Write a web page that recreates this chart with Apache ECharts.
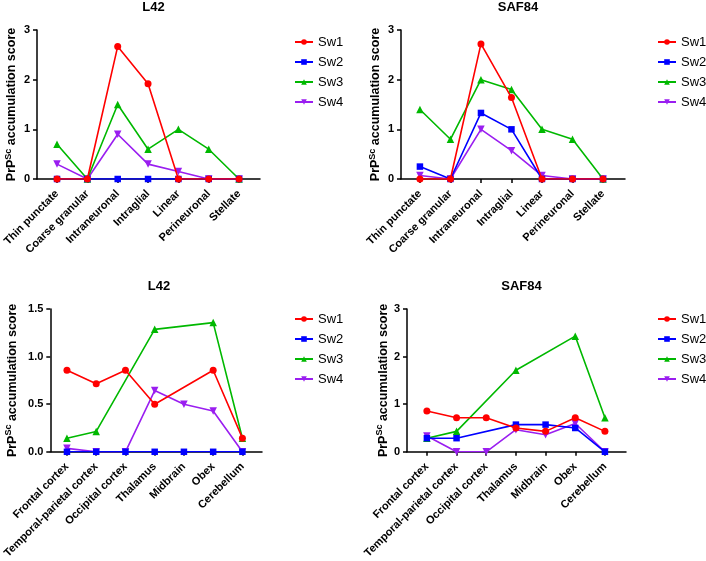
<!DOCTYPE html>
<html>
<head>
<meta charset="utf-8">
<script src="https://cdn.jsdelivr.net/npm/echarts@6/dist/echarts.min.js"></script>
<style>html,body{margin:0;padding:0;background:#fff}#c{width:706px;height:561px}</style>
</head>
<body>
<div id="c"></div>
<script>
const patternCats = ['Thin punctate','Coarse granular','Intraneuronal','Intraglial','Linear','Perineuronal','Stellate'];
const regionCats = ['Frontal cortex','Temporal-parietal cortex','Occipital cortex','Thalamus','Midbrain','Obex','Cerebellum'];
const seriesNames = ['Sw1','Sw2','Sw3','Sw4'];

// Top-left: L42, patterns
const l42PatSw1 = [0, 0, 2.67, 1.92, 0, 0, 0];
const l42PatSw2 = [0, 0, 0, 0, 0, 0, 0];
const l42PatSw3 = [0.7, 0, 1.5, 0.6, 1.0, 0.6, 0];
const l42PatSw4 = [0.3, 0, 0.9, 0.3, 0.15, 0, 0];
// Top-right: SAF84, patterns
const safPatSw1 = [0, 0, 2.72, 1.64, 0, 0, 0];
const safPatSw2 = [0.25, 0, 1.33, 1.0, 0, 0, 0];
const safPatSw3 = [1.4, 0.8, 2.0, 1.8, 1.0, 0.8, 0];
const safPatSw4 = [0.07, 0, 1.0, 0.57, 0.07, 0, 0];
// Bottom-left: L42, regions
const l42RegSw1 = [0.857, 0.714, 0.857, 0.5, null, 0.857, 0.143];
const l42RegSw2 = [0, 0, 0, 0, 0, 0, 0];
const l42RegSw3 = [0.143, 0.214, null, 1.286, null, 1.357, 0.143];
const l42RegSw4 = [0.036, 0, 0, 0.643, 0.5, 0.429, 0];
// Bottom-right: SAF84, regions
const safRegSw1 = [0.857, 0.714, 0.714, 0.5, 0.429, 0.714, 0.429];
const safRegSw2 = [0.286, 0.286, null, 0.571, 0.571, 0.5, 0];
const safRegSw3 = [0.286, 0.429, null, 1.714, null, 2.429, 0.714];
const safRegSw4 = [0.333, 0, 0, 0.464, 0.357, 0.595, 0];

const FONT = "'Liberation Sans', Arial, sans-serif";
const colors = ['#ff0000', '#0000ff', '#00b800', '#9a1ef0'];
const symbols = ['circle', 'rect', 'triangle', 'triangle'];
const symRot = [0, 0, 0, 180];
const symSize = [7, 6.5, 7.5, 7.5];
const zs = [5, 4, 3, 2];

const panels = [
  {title: 'L42', cats: patternCats, data: [l42PatSw1, l42PatSw2, l42PatSw3, l42PatSw4],
   grid: {left: 37, top: 30, width: 223, height: 149}, xmin: -0.66, xmax: 6.69, ymax: 3, yint: 1, dec: 0,
   nameGap: 17, legend: {left: 294, top: 35}},
  {title: 'SAF84', cats: patternCats, data: [safPatSw1, safPatSw2, safPatSw3, safPatSw4],
   grid: {left: 401, top: 30, width: 224, height: 149}, xmin: -0.62, xmax: 6.72, ymax: 3, yint: 1, dec: 0,
   nameGap: 17, legend: {left: 657, top: 35}},
  {title: 'L42', cats: regionCats, data: [l42RegSw1, l42RegSw2, l42RegSw3, l42RegSw4],
   grid: {left: 46, top: 309, width: 216, height: 145}, xmin: -0.57, xmax: 6.67, ymax: 1.5, yint: 0.5, dec: 1,
   nameGap: 30, legend: {left: 294, top: 312}},
  {title: 'SAF84', cats: regionCats, data: [safRegSw1, safRegSw2, safRegSw3, safRegSw4],
   grid: {left: 407, top: 309, width: 219, height: 145}, xmin: -0.67, xmax: 6.71, ymax: 3, yint: 1, dec: 0,
   nameGap: 14, legend: {left: 657, top: 312}}
];

const idx = [0, 1, 2, 3, 4, 5, 6];
const option = {
  backgroundColor: '#fff',
  animation: false,
  title: [], grid: [], xAxis: [], yAxis: [], legend: [], series: []
};

panels.forEach((p, i) => {
  option.grid.push(p.grid);
  option.title.push({
    text: p.title, left: p.grid.left + p.grid.width / 2, textAlign: 'center',
    top: p.grid.top - 34,
    textStyle: {fontFamily: FONT, fontWeight: 'bold', fontSize: 13, color: '#000'}
  });
  const cats = p.cats;
  option.xAxis.push({
    type: 'value', gridIndex: i, min: p.xmin, max: p.xmax,
    splitLine: {show: false},
    axisLine: {onZero: false, lineStyle: {color: '#000', width: 1.5}},
    axisTick: {show: true, customValues: idx, length: 4, lineStyle: {color: '#000', width: 1.5}},
    axisLabel: {
      customValues: idx, rotate: 45, margin: 13, color: '#000',
      fontFamily: FONT, fontWeight: 'bold', fontSize: 11,
      formatter: v => cats[Math.round(v)]
    }
  });
  option.yAxis.push({
    type: 'value', gridIndex: i, min: 0, max: p.ymax, interval: p.yint,
    splitLine: {show: false},
    axisLine: {show: true, onZero: false, lineStyle: {color: '#000', width: 1.5}},
    axisTick: {show: true, length: 4, lineStyle: {color: '#000', width: 1.5}},
    axisLabel: {color: '#000', fontFamily: FONT, fontWeight: 'bold', fontSize: 11, margin: 7,
      formatter: v => v.toFixed(p.dec)},
    name: '{a|PrP}{b|Sc}{a| accumulation score}',
    nameLocation: 'middle', nameRotate: 90, nameGap: p.nameGap,
    nameTextStyle: {
      rich: {
        a: {fontFamily: FONT, fontWeight: 'bold', fontSize: 12.5, color: '#000', lineHeight: 16},
        b: {fontFamily: FONT, fontWeight: 'bold', fontSize: 9, color: '#000', lineHeight: 16, verticalAlign: 'top', padding: [0, 0, 5, 0]}
      }
    }
  });
  option.legend.push({
    orient: 'vertical', left: p.legend.left, top: p.legend.top, padding: 0,
    data: seriesNames, itemWidth: 18, itemHeight: 7, itemGap: 6,
    textStyle: {fontFamily: FONT, fontSize: 13, color: '#000', lineHeight: 14}
  });
  p.data.forEach((arr, s) => {
    option.series.push({
      type: 'line', name: seriesNames[s], xAxisIndex: i, yAxisIndex: i,
      data: arr.map((v, k) => [k, v]),
      connectNulls: true, z: zs[s],
      symbol: symbols[s], symbolRotate: symRot[s], symbolSize: symSize[s],
      lineStyle: {color: colors[s], width: 1.6},
      itemStyle: {color: colors[s]}
    });
  });
});

const chart = echarts.init(document.getElementById('c'), null, {renderer: 'canvas'});
chart.setOption(option);
</script>
</body>
</html>
